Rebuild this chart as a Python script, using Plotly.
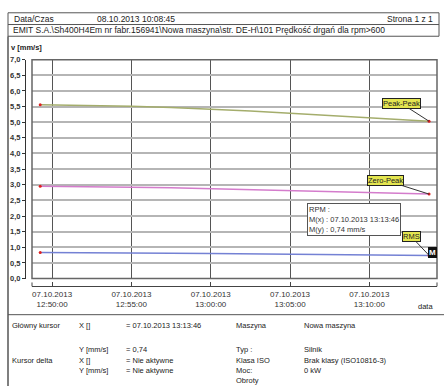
import plotly.graph_objects as go

W, H = 444, 391

# ---- data ----
times = ["2013-10-07 12:49:15", "2013-10-07 12:52:30", "2013-10-07 12:55:00",
         "2013-10-07 12:57:30", "2013-10-07 13:00:00", "2013-10-07 13:02:30",
         "2013-10-07 13:05:00", "2013-10-07 13:07:30", "2013-10-07 13:10:00",
         "2013-10-07 13:13:46"]
peak_peak = [5.56, 5.54, 5.51, 5.47, 5.42, 5.36, 5.29, 5.21, 5.13, 5.03]
zero_peak = [2.95, 2.94, 2.92, 2.90, 2.87, 2.84, 2.81, 2.78, 2.75, 2.70]
rms = [0.83, 0.83, 0.82, 0.81, 0.80, 0.79, 0.78, 0.77, 0.76, 0.74]
series_names = ["Peak-Peak", "Zero-Peak", "RMS"]
series_colors = ["#a4ad6c", "#d47ccc", "#7481d4"]
cursor_time = "2013-10-07 13:13:46"
cursor_value = 0.74

FONT = "Liberation Sans, Arial, sans-serif"


def px(x):
    return x / W


def py(y):
    return 1 - y / H


fig = go.Figure()
for name, vals, col in zip(series_names, [peak_peak, zero_peak, rms], series_colors):
    fig.add_trace(go.Scatter(x=times, y=vals, mode="lines", name=name,
                             line=dict(color=col, width=1.5), showlegend=False))
    fig.add_trace(go.Scatter(x=[times[0], times[-1]], y=[vals[0], vals[-1]], mode="markers",
                             marker=dict(color="#e02020", size=3), showlegend=False))

X0, X1, Y0, Y1 = 32, 437, 57, 281
XAX = 289

shapes = []
# page frame
shapes.append(dict(type="rect", xref="paper", yref="paper", x0=px(8), x1=px(439), y0=py(33), y1=py(9),
                   line=dict(color="#555", width=1)))
shapes.append(dict(type="line", xref="paper", yref="paper", x0=px(8), x1=px(439), y0=py(21), y1=py(21),
                   line=dict(color="#555", width=1)))
shapes.append(dict(type="line", xref="paper", yref="paper", x0=px(8), x1=px(8), y0=py(33), y1=0,
                   line=dict(color="#555", width=1.5)))
shapes.append(dict(type="line", xref="paper", yref="paper", x0=px(8), x1=1, y0=py(318), y1=py(318),
                   line=dict(color="#555", width=1)))
# plot frame
shapes.append(dict(type="rect", xref="paper", yref="paper", x0=px(X0), x1=px(X1), y0=py(Y1), y1=py(Y0),
                   line=dict(color="#666", width=1.5)))
# x axis end caps
for xx in (X0, X1):
    shapes.append(dict(type="line", xref="paper", yref="paper", x0=px(xx), x1=px(xx),
                       y0=py(XAX), y1=py(XAX - 4), line=dict(color="#444", width=1)))

annotations = []


def txt(x, y, s, anchor="left", size=8.5, color="#222", bold=False):
    if bold:
        s = "<b>" + s + "</b>"
    annotations.append(dict(x=px(x), y=py(y), xref="paper", yref="paper", text=s, showarrow=False,
                            xanchor=anchor, yanchor="middle", font=dict(family=FONT, size=size, color=color)))


# header
txt(12, 15, "Data/Czas")
txt(95, 15, "08.10.2013 10:08:45")
txt(435, 15, "Strona 1 z 1", anchor="right")
txt(11, 27, "EMIT S.A.\\Sh400H4Em nr fabr.156941\\Nowa maszyna\\str. DE-H\\101 Prędkość drgań dla rpm>600")
txt(9, 45, "v [mm/s]", size=7.5, bold=True)
txt(425, 310, "data", anchor="center", size=7.5)

# bottom table
rows = [
    (329, "Główny kursor", "X []", "= 07.10.2013 13:13:46", "Maszyna", "Nowa maszyna"),
    (354, "", "Y [mm/s]", "= 0,74", "Typ :", "Silnik"),
    (365, "Kursor delta", "X []", "= Nie aktywne", "Klasa ISO", "Brak klasy (ISO10816-3)"),
    (375, "", "Y [mm/s]", "= Nie aktywne", "Moc:", "0 kW"),
    (385, "", "", "", "Obroty", ""),
]
cols = [10, 77, 124, 234, 302]
for r in rows:
    for cx, s in zip(cols, r[1:]):
        if s:
            txt(cx, r[0], s, size=7.5)

# series labels
label_pos = [(-28, -18), (-44, -14), (-18, -19)]
for name, vals, (ax, ay) in zip(series_names, [peak_peak, zero_peak, rms], label_pos):
    annotations.append(dict(x=times[-1], y=vals[-1], xref="x", yref="y", text=name, showarrow=True,
                            arrowhead=0, arrowwidth=1, arrowcolor="#333", ax=ax, ay=ay,
                            bgcolor="#e4e650", bordercolor="#222", borderwidth=1, borderpad=0,
                            font=dict(family=FONT, size=7.5, color="#222")))
# cursor marker
annotations.append(dict(x=cursor_time, y=cursor_value, xref="x", yref="y", text="<b>M</b>", showarrow=False,
                        xshift=3, yshift=3,
                        bgcolor="#111", bordercolor="#111", borderpad=0,
                        font=dict(family=FONT, size=8, color="white")))
# cursor tooltip
annotations.append(dict(x=px(307), y=py(204), xref="paper", yref="paper",
                        text="RPM :<br>M(x) : 07.10.2013 13:13:46<br>M(y) : 0,74 mm/s",
                        showarrow=False, xanchor="left", yanchor="top", align="left",
                        bgcolor="white", bordercolor="#555", borderwidth=1, borderpad=1,
                        font=dict(family=FONT, size=7.5, color="#333")))

fig.update_layout(
    width=W, height=H, autosize=False,
    margin=dict(l=0, r=0, t=0, b=0),
    paper_bgcolor="white", plot_bgcolor="white",
    separators=", ",
    shapes=shapes, annotations=annotations,
    xaxis=dict(domain=[px(X0), px(X1)], anchor="free", position=py(XAX),
               range=["2013-10-07 12:48:44", "2013-10-07 13:14:16"],
               type="date", tick0="2013-10-07 12:50:00", dtick=300000,
               tickformat="%d.%m.%Y<br>%H:%M:%S",
               showgrid=True, gridcolor="#555", gridwidth=1,
               showline=True, linecolor="#444", linewidth=1,
               ticks="inside", ticklen=4, tickcolor="#444",
               tickfont=dict(family=FONT, size=8, color="#333"), zeroline=False),
    yaxis=dict(domain=[py(Y1), py(Y0)], anchor="free", position=px(25),
               range=[0, 7], dtick=0.5, tickformat=".1f",
               showgrid=True, gridcolor="#b5b5b5", gridwidth=1.5,
               showline=True, linecolor="#333", linewidth=1,
               ticks="outside", ticklen=3, tickcolor="#333",
               tickfont=dict(family=FONT, size=7.5, color="#333", weight="bold"), zeroline=False),
)

fig.write_html("out.html", config={"displayModeBar": False},
               post_script="document.body.style.margin='0';document.body.style.overflow='hidden';")
